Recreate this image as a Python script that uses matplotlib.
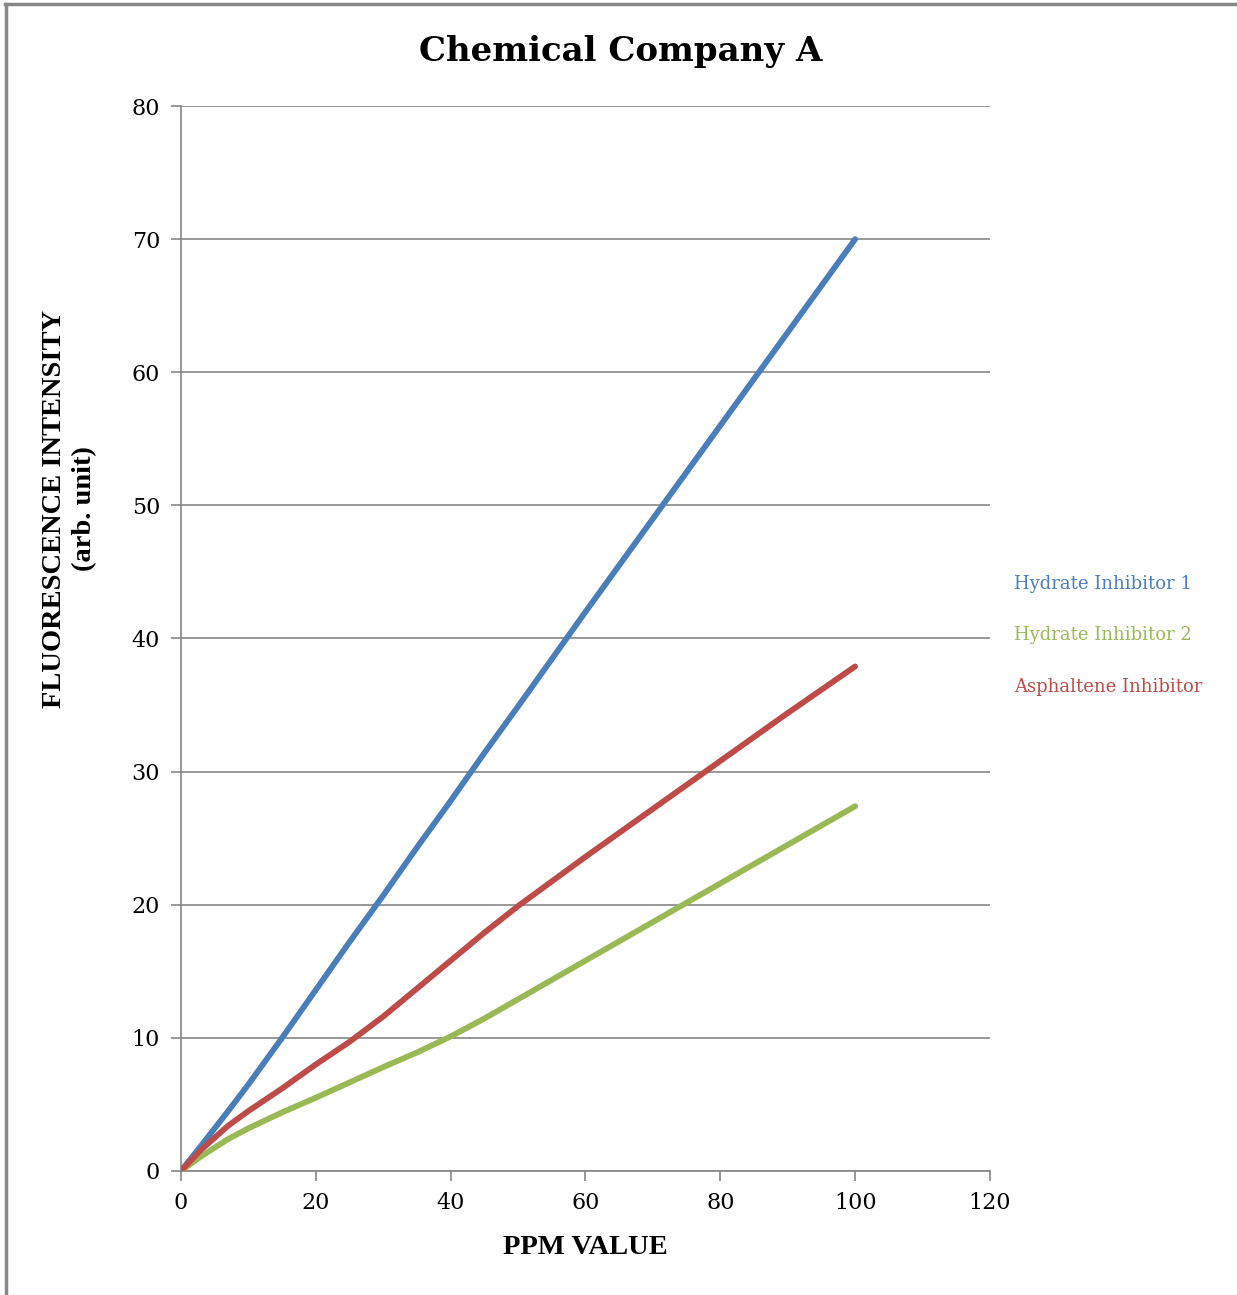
import matplotlib.pyplot as plt
from matplotlib.lines import Line2D

# PPM readings and fluorescence for each inhibitor
ppm = [0, 3, 7, 10, 15, 20, 25, 30, 35, 40, 45, 50, 60, 70, 80, 90, 100]
hydrate_1 = [0, 1.9, 4.5, 6.5, 10.0, 13.6, 17.2, 20.7, 24.3, 27.8, 31.4, 34.9, 42.0, 49.0, 56.0, 63.0, 70.0]
hydrate_2 = [0, 1.1, 2.4, 3.2, 4.4, 5.5, 6.65, 7.8, 8.9, 10.1, 11.45, 12.9, 15.8, 18.7, 21.6, 24.5, 27.4]
asphaltene = [0, 1.6, 3.4, 4.5, 6.2, 8.0, 9.7, 11.6, 13.7, 15.8, 17.9, 19.9, 23.6, 27.2, 30.8, 34.4, 37.9]

series = [
    ("Hydrate Inhibitor 1", hydrate_1, "#4a7ebb"),
    ("Hydrate Inhibitor 2", hydrate_2, "#98b954"),
    ("Asphaltene Inhibitor", asphaltene, "#be4b48"),
]

plt.rcParams['font.family'] = ['DejaVu Serif']
grid_col = "#868686"
label_font = ['Liberation Serif', 'DejaVu Serif']

fig = plt.figure(figsize=(12.37, 12.95), dpi=100)
ax = fig.add_axes([0.1463, 0.0958, 0.6540, 0.8223])

for name, vals, col in series:
    ax.plot(ppm, vals, color=col, lw=4.2, solid_capstyle='round',
            solid_joinstyle='round', label=name, zorder=3)

ax.set_xlim(0, 120)
ax.set_ylim(0, 80)
ax.set_xticks(range(0, 121, 20))
ax.set_yticks(range(0, 81, 10))
ax.yaxis.grid(True, color=grid_col, lw=1.2)
ax.set_axisbelow(True)
for s in ("top", "right"):
    ax.spines[s].set_visible(False)
for s in ("left", "bottom"):
    ax.spines[s].set_color(grid_col)
    ax.spines[s].set_linewidth(1.2)
ax.tick_params(axis='both', colors=grid_col, length=7, width=1.2, labelsize=16,
               labelcolor='black', pad=8)

fig.text(0.502, 1 - 52 / 1295, "Chemical Company A", fontsize=24.5,
         fontweight='bold', ha='center', va='center')
ax.set_xlabel("PPM VALUE", fontsize=20.5, fontweight='bold', family=label_font,
              labelpad=15)
ax.set_ylabel("FLUORESCENCE INTENSITY\n(arb. unit)", fontsize=20.5, fontweight='bold',
              family=label_font, linespacing=1.25, va='center')
ax.yaxis.set_label_coords(-0.138, 0.6216)

leg = ax.legend(loc='upper left', bbox_to_anchor=(1.010, 0.575), frameon=False,
                handlelength=0, handletextpad=0, labelspacing=1.85, fontsize=13,
                labelcolor='linecolor')
for h in leg.legend_handles:
    h.set_visible(False)

# outer frame (top and left edges)
fig.add_artist(Line2D([0.004, 1.0], [0.9968, 0.9968], color="#888888", lw=2.5,
                      transform=fig.transFigure))
fig.add_artist(Line2D([0.005, 0.005], [0.0, 0.9968], color="#888888", lw=2.5,
                      transform=fig.transFigure))

fig.savefig("out.png", dpi=100)
